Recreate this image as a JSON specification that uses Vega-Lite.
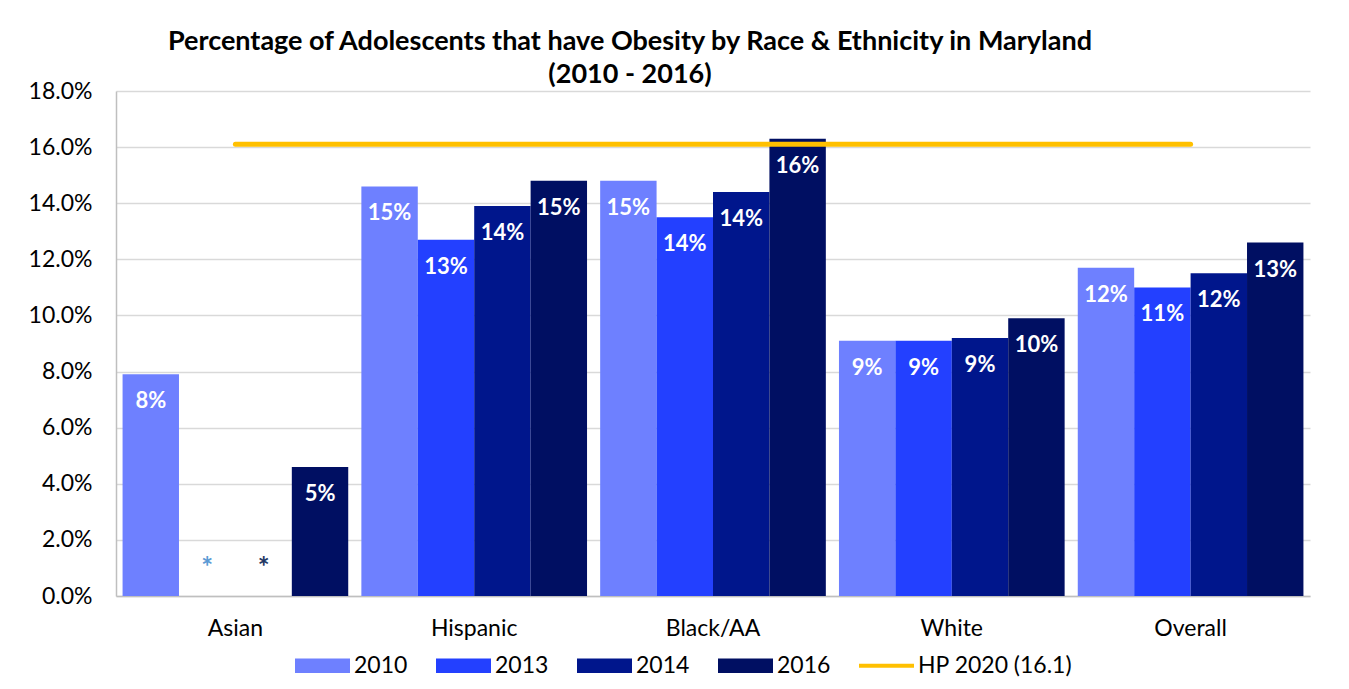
{
  "$schema": "https://vega.github.io/schema/vega-lite/v6.json",
  "width": 1194,
  "height": 505,
  "autosize": {"type": "none"},
  "padding": {"left": 116, "top": 91, "right": 39, "bottom": 93},
  "background": "white",
  "config": {
    "font": "Lato",
    "view": {"stroke": null},
    "legend": {"padding": 0}
  },
  "title": {
    "text": ["Percentage of Adolescents that have Obesity by Race & Ethnicity in Maryland", "(2010 - 2016)"],
    "font": "Lato",
    "fontSize": 27,
    "fontWeight": "bold",
    "color": "#000000",
    "anchor": "middle",
    "dx": -83,
    "dy": 15,
    "offset": 6,
    "lineHeight": 33
  },
  "datasets": {
    "bars": [
      {"group": "Asian", "year": "2010", "value": 0.079, "label": "8%"},
      {"group": "Asian", "year": "2016", "value": 0.046, "label": "5%"},
      {"group": "Hispanic", "year": "2010", "value": 0.146, "label": "15%"},
      {"group": "Hispanic", "year": "2013", "value": 0.127, "label": "13%"},
      {"group": "Hispanic", "year": "2014", "value": 0.139, "label": "14%"},
      {"group": "Hispanic", "year": "2016", "value": 0.148, "label": "15%"},
      {"group": "Black/AA", "year": "2010", "value": 0.148, "label": "15%"},
      {"group": "Black/AA", "year": "2013", "value": 0.135, "label": "14%"},
      {"group": "Black/AA", "year": "2014", "value": 0.144, "label": "14%"},
      {"group": "Black/AA", "year": "2016", "value": 0.163, "label": "16%"},
      {"group": "White", "year": "2010", "value": 0.091, "label": "9%"},
      {"group": "White", "year": "2013", "value": 0.091, "label": "9%"},
      {"group": "White", "year": "2014", "value": 0.092, "label": "9%"},
      {"group": "White", "year": "2016", "value": 0.099, "label": "10%"},
      {"group": "Overall", "year": "2010", "value": 0.117, "label": "12%"},
      {"group": "Overall", "year": "2013", "value": 0.110, "label": "11%"},
      {"group": "Overall", "year": "2014", "value": 0.115, "label": "12%"},
      {"group": "Overall", "year": "2016", "value": 0.126, "label": "13%"}
    ],
    "stars": [
      {"group": "Asian", "year": "2013", "value": 0.012, "label": "*"},
      {"group": "Asian", "year": "2014", "value": 0.012, "label": "*"}
    ],
    "target": [
      {"group": "Asian", "series": "HP 2020 (16.1)", "value": 0.161},
      {"group": "Overall", "series": "HP 2020 (16.1)", "value": 0.161}
    ]
  },
  "encoding": {
    "x": {
      "field": "group",
      "type": "nominal",
      "sort": ["Asian", "Hispanic", "Black/AA", "White", "Overall"],
      "scale": {"domain": ["Asian", "Hispanic", "Black/AA", "White", "Overall"], "paddingInner": 0.055, "paddingOuter": 0.0275},
      "axis": {
        "title": null,
        "labelAngle": 0,
        "labelFontSize": 23,
        "labelColor": "#000000",
        "labelPadding": 21,
        "ticks": false,
        "domainColor": "#BFBFBF",
        "domainWidth": 1.5
      }
    },
    "y": {
      "field": "value",
      "type": "quantitative",
      "scale": {"domain": [0, 0.18], "nice": false},
      "axis": {
        "title": null,
        "format": ".1%",
        "values": [0, 0.02, 0.04, 0.06, 0.08, 0.1, 0.12, 0.14, 0.16, 0.18],
        "labelFontSize": 23,
        "labelColor": "#000000",
        "labelPadding": 24,
        "ticks": false,
        "gridColor": "#D9D9D9",
        "gridWidth": 1.5,
        "domainColor": "#BFBFBF",
        "domainWidth": 1.5
      }
    }
  },
  "layer": [
    {
      "data": {"name": "bars"},
      "mark": {"type": "bar"},
      "encoding": {
        "xOffset": {"field": "year", "type": "nominal", "scale": {"domain": ["2010", "2013", "2014", "2016"], "paddingInner": 0, "paddingOuter": 0}},
        "color": {
          "field": "year",
          "type": "nominal",
          "scale": {
            "domain": ["2010", "2013", "2014", "2016", "HP 2020 (16.1)"],
            "range": ["#6E80FF", "#2340FF", "#00168C", "#000F62", "#FFC000"]
          },
          "legend": {
            "title": null,
            "orient": "none",
            "direction": "horizontal",
            "legendX": 179,
            "legendY": 547,
            "labelFontSize": 23,
            "labelColor": "#000000",
            "labelOffset": 4,
            "columnPadding": 28,
            "symbolSize": 3025,
            "symbolStrokeWidth": 0,
            "symbolOpacity": 1,
            "encode": {
              "symbols": {
                "update": {
                  "shape": {"signal": "datum.label === 'HP 2020 (16.1)' ? 'M-1,-0.07H1V0.07H-1Z' : 'M-1,-0.26H1V0.26H-1Z'"}
                }
              }
            }
          }
        }
      }
    },
    {
      "data": {"name": "bars"},
      "mark": {"type": "text", "color": "white", "fontWeight": "bold", "fontSize": 22, "baseline": "top", "dy": 17},
      "encoding": {
        "xOffset": {"field": "year", "type": "nominal", "scale": {"domain": ["2010", "2013", "2014", "2016"], "paddingInner": 0, "paddingOuter": 0}},
        "text": {"field": "label"}
      }
    },
    {
      "data": {"name": "stars"},
      "mark": {"type": "text", "fontWeight": "bold", "fontSize": 28, "baseline": "middle", "dy": 7},
      "encoding": {
        "xOffset": {"field": "year", "type": "nominal", "scale": {"domain": ["2010", "2013", "2014", "2016"], "paddingInner": 0, "paddingOuter": 0}},
        "text": {"field": "label"},
        "color": {"condition": {"test": "datum.year === '2013'", "value": "#5B9BD5"}, "value": "#1F3864"}
      }
    },
    {
      "data": {"name": "target"},
      "mark": {"type": "line", "strokeWidth": 5, "strokeCap": "round"},
      "encoding": {
        "color": {"field": "series", "type": "nominal"}
      }
    }
  ]
}
